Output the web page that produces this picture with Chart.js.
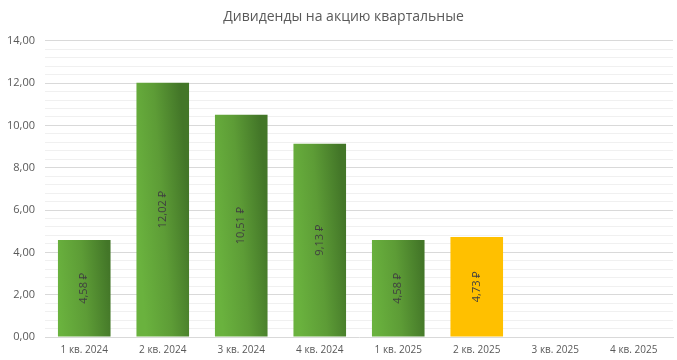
<!DOCTYPE html>
<html>
<head>
<meta charset="utf-8">
<script src="https://cdn.jsdelivr.net/npm/chart.js@4"></script>
<style>
html,body{margin:0;padding:0;background:#fff;}
#wrap{width:677px;height:360px;}
</style>
</head>
<body>
<div id="wrap"><canvas id="c" width="677" height="360"></canvas></div>
<script>
const categories = ['1 кв. 2024','2 кв. 2024','3 кв. 2024','4 кв. 2024','1 кв. 2025','2 кв. 2025','3 кв. 2025','4 кв. 2025'];
const dividends = [4.58, 12.02, 10.51, 9.13, 4.58, 4.73, null, null];
const highlightIndex = 5;
const chartTitle = 'Дивиденды на акцию квартальные';
const yMax = 14;
const yStep = 0.4;
const majorStep = 2;

const FONT = "'Open Sans', 'Noto Sans', sans-serif";
const fmt = v => v.toFixed(2).replace('.', ',');

const gradientPlugin = {
  id: 'barGradient',
  beforeDatasetsDraw(chart) {
    const c = chart.ctx;
    const meta = chart.getDatasetMeta(0);
    meta.data.forEach((el, i) => {
      if (i === highlightIndex || dividends[i] == null) return;
      const p = el.getProps(['x', 'y', 'base', 'width'], true);
      const hw = p.width / 2;
      const mid = (p.y + p.base) / 2;
      const g = c.createLinearGradient(p.x - hw, mid + 2, p.x + hw, mid - 2);
      g.addColorStop(0, '#6ab23e');
      g.addColorStop(0.5, '#5d9c36');
      g.addColorStop(1, '#437628');
      el.options.backgroundColor = g;
    });
  }
};

const labelPlugin = {
  id: 'barLabels',
  afterDatasetsDraw(chart) {
    const c = chart.ctx;
    const meta = chart.getDatasetMeta(0);
    meta.data.forEach((el, i) => {
      const v = dividends[i];
      if (v == null) return;
      const props = el.getProps(['x', 'y', 'base'], true);
      const cy = (props.y + props.base) / 2;
      c.save();
      c.translate(props.x, cy);
      c.rotate(-Math.PI / 2);
      c.fillStyle = '#404040';
      c.font = "11px " + FONT;
      c.textAlign = 'center';
      c.textBaseline = 'middle';
      c.fillText(fmt(v) + ' ₽', 0, 0);
      c.restore();
    });
  }
};

new Chart(document.getElementById('c'), {
  type: 'bar',
  data: {
    labels: categories,
    datasets: [{
      data: dividends,
      backgroundColor: ctx => ctx.dataIndex === highlightIndex ? '#FFC000' : '#58923a',
      borderWidth: 0,
      categoryPercentage: 1,
      barPercentage: 0.67
    }]
  },
  options: {
    responsive: false,
    animation: false,
    devicePixelRatio: 1,
    layout: { padding: { left: 0, right: 4, top: 7, bottom: 0 } },
    plugins: {
      legend: { display: false },
      tooltip: { enabled: false },
      title: {
        display: true,
        text: '\u2003' + chartTitle,
        color: '#595959',
        font: { family: FONT, size: 14, weight: 'normal' },
        padding: { top: 2, bottom: 15 }
      }
    },
    scales: {
      x: {
        grid: { display: false, drawTicks: false },
        border: { display: true, color: '#d9d9d9', width: 1 },
        ticks: { color: '#595959', font: { family: FONT, size: 10 }, maxRotation: 0, padding: 7 },
        afterFit(s) { s.height = 23; }
      },
      y: {
        min: 0,
        max: yMax,
        border: { display: false },
        grid: {
          drawTicks: false,
          color: ctx => {
            const v = Math.round(ctx.tick.value * 10);
            if (v === 0) return 'rgba(0,0,0,0)';
            return v % (majorStep * 10) === 0 ? '#d9d9d9' : '#f0f0f0';
          },
          lineWidth: 1
        },
        ticks: {
          stepSize: yStep,
          autoSkip: false,
          color: '#595959',
          font: { family: FONT, size: 11 },
          padding: 10,
          callback: v => {
            const r = Math.round(v * 10);
            return r % (majorStep * 10) === 0 ? fmt(r / 10) : '';
          }
        },
        afterFit(s) { s.width = 45; }
      }
    }
  },
  plugins: [gradientPlugin, labelPlugin]
});
</script>
</body>
</html>
